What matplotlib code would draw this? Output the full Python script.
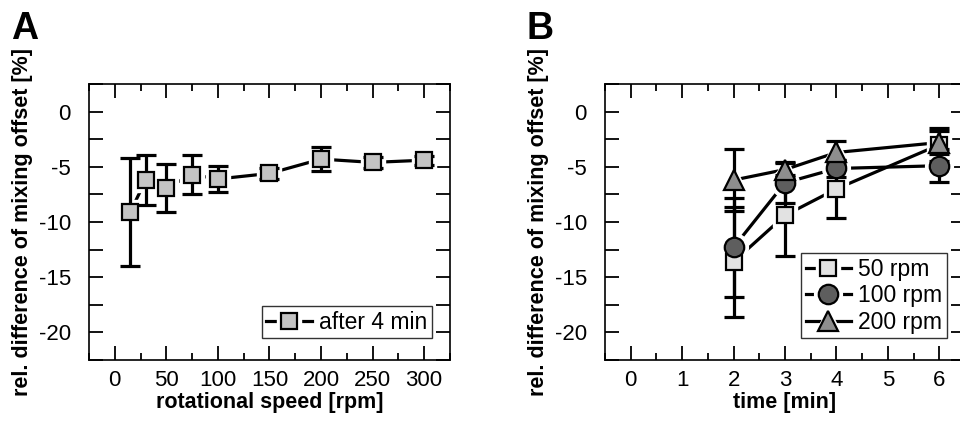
import matplotlib
matplotlib.use('Agg')
import matplotlib.pyplot as plt
from matplotlib.lines import Line2D
from matplotlib.legend_handler import HandlerTuple
from matplotlib.ticker import MultipleLocator

plt.rcParams['font.family'] = ['Liberation Sans', 'DejaVu Sans']
plt.rcParams['axes.unicode_minus'] = False

# panel A: offset after 4 min versus rotational speed
speed = [15, 30, 50, 75, 100, 150, 200, 250, 300]
speed_mean = [-9.1, -6.2, -6.9, -5.7, -6.1, -5.6, -4.3, -4.6, -4.4]
speed_err = [4.9, 2.3, 2.2, 1.8, 1.2, 0.5, 1.1, 0.5, 0.4]

# panel B: offset versus time, per rotational speed
time = [2, 3, 4, 6]
series = ['50 rpm', '100 rpm', '200 rpm']
time_mean = {
	'50 rpm': [-13.6, -9.4, -7.0, -3.0],
	'100 rpm': [-12.3, -6.45, -5.15, -4.9],
	'200 rpm': [-6.2, -5.25, -3.7, -2.8],
}
time_err = {
	'50 rpm': [5.0, 3.7, 2.6, 1.5],
	'100 rpm': [4.5, 1.8, 0.8, 1.5],
	'200 rpm': [2.8, 0.7, 1.0, 1.0],
}
style = {
	'50 rpm': ('s', '#e2e2e2', 11.5),
	'100 rpm': ('o', '#5e5e5e', 14),
	'200 rpm': ('^', '#8e8e8e', 14),
}

ylabel = 'rel. difference of mixing offset [%]'
fs_tick = 16
fs_legend = 16.5
fs_label = 15.5

fig = plt.figure(figsize=(9.6, 4.25), dpi=100)
ax_a = fig.add_axes([0.0927, 0.1529, 0.376, 0.6494])
ax_b = fig.add_axes([0.6302, 0.1529, 0.375, 0.6494])


def series_plot(ax, x, y, err, marker, face, ms):
	ax.plot(x, y, color='k', lw=2.3, zorder=2)
	ax.plot(x, y, ls='none', marker=marker, ms=ms + 6, mfc='white', mec='white', zorder=3)
	ax.errorbar(x, y, yerr=err, fmt='none', ecolor='k', elinewidth=2.3, capsize=7.5, capthick=2.3, zorder=4)
	ax.plot(x, y, ls='none', marker=marker, ms=ms, mfc=face, mec='k', mew=1.6, zorder=5)
	return (
		Line2D([], [], color='k', lw=2.3),
		Line2D([], [], ls='none', marker=marker, ms=ms + 6, mfc='white', mec='white'),
		Line2D([], [], ls='none', marker=marker, ms=ms, mfc=face, mec='k', mew=1.6),
	)


def style_axes(ax):
	ax.set_ylim(-22.5, 2.5)
	ax.yaxis.set_major_locator(MultipleLocator(5))
	ax.yaxis.set_minor_locator(MultipleLocator(2.5))
	ax.tick_params(which='both', direction='in', top=True, right=True, width=1.3, labelsize=fs_tick)
	ax.tick_params(axis='x', pad=7)
	ax.tick_params(axis='y', pad=13)
	ax.tick_params(which='major', length=10)
	ax.tick_params(which='minor', length=5)
	ax.tick_params(axis='y', which='minor', length=10)
	for s in ax.spines.values():
		s.set_linewidth(1.2)
	ax.set_ylabel(ylabel, fontsize=fs_label, fontweight='bold', labelpad=4)


def add_legend(ax, handles, labels):
	leg = ax.legend(handles, labels, handler_map={tuple: HandlerTuple(ndivide=1)}, loc='lower right',
					bbox_to_anchor=(0.95, 0.078), fontsize=fs_legend, frameon=True, fancybox=False,
					edgecolor='k', handlelength=2.0, handletextpad=0.3, borderpad=0.2, labelspacing=0.15,
					borderaxespad=0)
	leg.get_frame().set_linewidth(1.0)


h = series_plot(ax_a, speed, speed_mean, speed_err, 's', '#c4c4c4', 11.5)
ax_a.set_xlim(-25, 325)
ax_a.xaxis.set_major_locator(MultipleLocator(50))
ax_a.xaxis.set_minor_locator(MultipleLocator(25))
style_axes(ax_a)
ax_a.set_xlabel('rotational speed [rpm]', fontsize=fs_label, fontweight='bold', labelpad=1)
add_legend(ax_a, [h], ['after 4 min'])

handles = []
for name in series:
	marker, face, ms = style[name]
	handles.append(series_plot(ax_b, time, time_mean[name], time_err[name], marker, face, ms))
ax_b.set_xlim(-0.5, 6.5)
ax_b.xaxis.set_major_locator(MultipleLocator(1))
ax_b.xaxis.set_minor_locator(MultipleLocator(0.5))
style_axes(ax_b)
ax_b.set_xlabel('time [min]', fontsize=fs_label, fontweight='bold', labelpad=1)
add_legend(ax_b, handles, series)

fig.text(0.012, 0.975, 'A', fontsize=27, fontweight='bold', va='top')
fig.text(0.548, 0.975, 'B', fontsize=27, fontweight='bold', va='top')

fig.savefig('out.png', dpi=100)
